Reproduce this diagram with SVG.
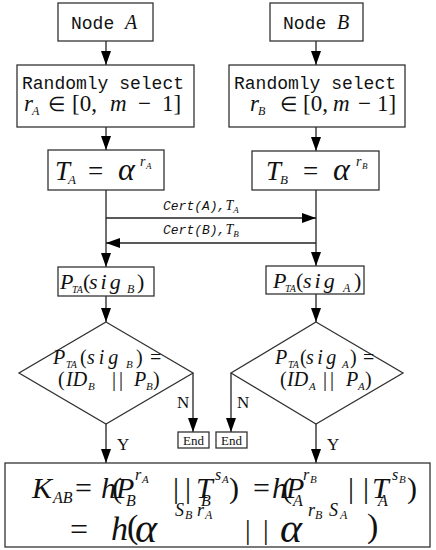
<svg xmlns="http://www.w3.org/2000/svg" width="436" height="550" viewBox="0 0 436 550">
<style>
.box{fill:#fff;stroke:#333;stroke-width:1.3}
.ln{fill:none;stroke:#222;stroke-width:1.3}
text{fill:#111}
.mono{font-family:"Liberation Mono","DejaVu Sans Mono",monospace}
.mi{font-family:"Liberation Serif","Times New Roman",serif;font-style:italic}
.r{font-family:"Liberation Serif","Times New Roman",serif;font-style:normal}
</style>
<defs>
<marker id="ah" viewBox="0 0 14 10" refX="14" refY="5" markerWidth="14" markerHeight="10" markerUnits="userSpaceOnUse" orient="auto">
<path d="M0,0 L14,5 L0,10 z" fill="#000"/>
</marker>
</defs>
<rect width="436" height="550" fill="#fff"/>

<g id="connectors">
<line class="ln" x1="106" y1="41" x2="106" y2="65" marker-end="url(#ah)"/>
<line class="ln" x1="316" y1="41" x2="316" y2="65" marker-end="url(#ah)"/>
<line class="ln" x1="106" y1="127" x2="106" y2="150" marker-end="url(#ah)"/>
<line class="ln" x1="316" y1="127" x2="316" y2="151" marker-end="url(#ah)"/>
<line class="ln" x1="106" y1="190" x2="106" y2="267" marker-end="url(#ah)"/>
<line class="ln" x1="316" y1="190" x2="316" y2="266" marker-end="url(#ah)"/>
<line class="ln" x1="106" y1="218" x2="316" y2="218" marker-end="url(#ah)"/>
<line class="ln" x1="316" y1="243" x2="106" y2="243" marker-end="url(#ah)"/>
<line class="ln" x1="106" y1="296" x2="106" y2="322" marker-end="url(#ah)"/>
<line class="ln" x1="316" y1="294" x2="316" y2="322" marker-end="url(#ah)"/>
<line class="ln" x1="193" y1="373" x2="193" y2="432" marker-end="url(#ah)"/>
<line class="ln" x1="231" y1="373" x2="231" y2="432" marker-end="url(#ah)"/>
<line class="ln" x1="106" y1="424" x2="106" y2="463" marker-end="url(#ah)"/>
<line class="ln" x1="316" y1="424" x2="316" y2="463" marker-end="url(#ah)"/>
<text class="mono" font-size="13" font-style="italic" x="163" y="210">Cert(A),<tspan class="mi" font-size="14">T</tspan><tspan class="mi" font-size="9" dy="3">A</tspan></text>
<text class="mono" font-size="13" font-style="italic" x="163" y="234">Cert(B),<tspan class="mi" font-size="14">T</tspan><tspan class="mi" font-size="9" dy="3">B</tspan></text>
<text class="r" font-size="17" x="177" y="408">N</text>
<text class="r" font-size="17" x="237" y="408">N</text>
<text class="r" font-size="17" x="117" y="450">Y</text>
<text class="r" font-size="17" x="327" y="450">Y</text>
</g>

<g id="nodeA">
<rect class="box" x="58" y="3" width="95" height="38"/>
<text class="mono" font-size="18" x="71" y="29">Node <tspan class="mi" font-size="20">A</tspan></text>
</g>
<g id="nodeB">
<rect class="box" x="270" y="3" width="93" height="38"/>
<text class="mono" font-size="18" x="283" y="29">Node <tspan class="mi" font-size="20">B</tspan></text>
</g>

<g id="selectA">
<rect class="box" x="17" y="65" width="177" height="62"/>
<text class="mono" font-size="18" x="22" y="89">Randomly select</text>
<text class="r" font-size="23"><tspan class="mi" x="24" y="111">r</tspan><tspan class="mi" font-size="12" x="32" y="115">A</tspan><tspan font-size="20" x="48" y="111">∈</tspan><tspan x="72" y="111">[0,</tspan><tspan class="mi" x="110" y="111">m</tspan><tspan x="138" y="111">−</tspan><tspan x="162" y="111">1]</tspan></text>
</g>
<g id="selectB">
<rect class="box" x="229" y="65" width="176" height="62"/>
<text class="mono" font-size="18" x="234" y="89">Randomly select</text>
<text class="r" font-size="23"><tspan class="mi" x="250" y="111">r</tspan><tspan class="mi" font-size="12" x="258" y="115">B</tspan><tspan font-size="20" x="280" y="111">∈</tspan><tspan x="303" y="111">[0,</tspan><tspan class="mi" x="333" y="111">m</tspan><tspan x="358" y="111">−</tspan><tspan x="377" y="111">1]</tspan></text>
</g>

<g id="TA">
<rect class="box" x="48" y="150" width="116" height="40"/>
<text class="mi" font-size="27"><tspan x="55" y="180">T</tspan><tspan font-size="13" x="68" y="184">A</tspan><tspan class="r" x="88" y="180">=</tspan><tspan font-size="32" x="118" y="180">α</tspan><tspan font-size="14" x="140" y="166">r</tspan><tspan font-size="9" x="146" y="169">A</tspan></text>
</g>
<g id="TB">
<rect class="box" x="252" y="151" width="127" height="39"/>
<text class="mi" font-size="27"><tspan x="266" y="180">T</tspan><tspan font-size="13" x="280" y="184">B</tspan><tspan class="r" x="303" y="180">=</tspan><tspan font-size="32" x="333" y="180">α</tspan><tspan font-size="14" x="356" y="166">r</tspan><tspan font-size="9" x="362" y="169">B</tspan></text>
</g>

<g id="sigB">
<rect class="box" x="58" y="267" width="96" height="29"/>
<text class="mi" font-size="22"><tspan x="60" y="289">P</tspan><tspan font-size="10" x="72" y="293">TA</tspan><tspan class="r" x="83" y="289">(</tspan><tspan x="89" y="289" letter-spacing="3">sig</tspan><tspan font-size="12" x="127" y="293">B</tspan><tspan class="r" x="137" y="289">)</tspan></text>
</g>
<g id="sigA">
<rect class="box" x="266" y="266" width="98" height="28"/>
<text class="mi" font-size="22"><tspan x="273" y="288">P</tspan><tspan font-size="10" x="285" y="292">TA</tspan><tspan class="r" x="296" y="288">(</tspan><tspan x="303" y="288" letter-spacing="3">sig</tspan><tspan font-size="12" x="343" y="292">A</tspan><tspan class="r" x="354" y="288">)</tspan></text>
</g>

<g id="decisionA">
<polygon class="box" points="106,322 193,373 106,424 19,373"/>
<text class="mi" font-size="20"><tspan x="53" y="364">P</tspan><tspan font-size="10" x="66" y="368">TA</tspan><tspan class="r" x="80" y="364">(</tspan><tspan x="87" y="364" letter-spacing="4">sig</tspan><tspan font-size="11" x="126" y="368">B</tspan><tspan class="r" x="136" y="364">)</tspan><tspan class="r" x="150" y="364">=</tspan></text>
<text class="mi" font-size="20"><tspan class="r" x="58" y="386">(</tspan><tspan x="66" y="386">ID</tspan><tspan font-size="11" x="88" y="390">B</tspan><tspan class="r" x="112" y="386">|</tspan><tspan class="r" x="119" y="386">|</tspan><tspan x="134" y="386">P</tspan><tspan font-size="11" x="146" y="390">B</tspan><tspan class="r" x="153" y="386">)</tspan></text>
</g>
<g id="decisionB">
<polygon class="box" points="316,322 403,373 316,424 231,373"/>
<text class="mi" font-size="20"><tspan x="275" y="364">P</tspan><tspan font-size="10" x="288" y="368">TA</tspan><tspan class="r" x="300" y="364">(</tspan><tspan x="306" y="364" letter-spacing="3.5">sig</tspan><tspan font-size="11" x="342" y="368">A</tspan><tspan class="r" x="350" y="364">)</tspan><tspan class="r" x="363" y="364">=</tspan></text>
<text class="mi" font-size="20"><tspan class="r" x="280" y="386">(</tspan><tspan x="287" y="386">ID</tspan><tspan font-size="11" x="309" y="390">A</tspan><tspan class="r" x="323" y="386">|</tspan><tspan class="r" x="330" y="386">|</tspan><tspan x="346" y="386">P</tspan><tspan font-size="11" x="358" y="390">A</tspan><tspan class="r" x="365" y="386">)</tspan></text>
</g>

<g id="endA">
<rect class="box" x="178" y="432" width="31" height="16"/>
<text class="r" font-size="13" x="193.5" y="445" text-anchor="middle">End</text>
</g>
<g id="endB">
<rect class="box" x="216" y="432" width="31" height="16"/>
<text class="r" font-size="13" x="231.5" y="445" text-anchor="middle">End</text>
</g>

<g id="key">
<rect class="box" x="5" y="463" width="425" height="84"/>
<text class="mi" font-size="30"><tspan x="32" y="498">K</tspan><tspan font-size="16" x="53" y="503">AB</tspan><tspan class="r" x="75" y="498">=</tspan><tspan x="101" y="498">h</tspan><tspan class="r" x="112" y="498">(</tspan><tspan x="116" y="498">P</tspan><tspan font-size="16" x="126" y="506">B</tspan><tspan font-size="16" x="135" y="480">r</tspan><tspan font-size="11" x="142" y="483">A</tspan><tspan class="r" x="173" y="498">|</tspan><tspan class="r" x="185" y="498">|</tspan><tspan x="196" y="498">T</tspan><tspan font-size="16" x="201" y="506">B</tspan><tspan font-size="16" x="215" y="480">s</tspan><tspan font-size="11" x="222" y="483">A</tspan><tspan class="r" x="229" y="498">)</tspan><tspan class="r" x="253" y="498">=</tspan><tspan x="272" y="498">h</tspan><tspan class="r" x="282" y="498">(</tspan><tspan x="286" y="498">P</tspan><tspan font-size="16" x="293" y="506">A</tspan><tspan font-size="16" x="303" y="480">r</tspan><tspan font-size="11" x="310" y="483">B</tspan><tspan class="r" x="348" y="498">|</tspan><tspan class="r" x="363" y="498">|</tspan><tspan x="372" y="498">T</tspan><tspan font-size="16" x="378" y="506">A</tspan><tspan font-size="16" x="392" y="480">s</tspan><tspan font-size="11" x="399" y="483">B</tspan><tspan class="r" x="407" y="498">)</tspan></text>
<text class="mi" font-size="34"><tspan class="r" font-size="32" x="70" y="540">=</tspan><tspan x="111" y="540">h</tspan><tspan class="r" x="127" y="538">(</tspan><tspan font-size="42" x="135" y="542">α</tspan><tspan font-size="18" x="175" y="516">S</tspan><tspan font-size="12" x="185" y="519">B</tspan><tspan font-size="18" x="197" y="516">r</tspan><tspan font-size="12" x="205" y="519">A</tspan><tspan class="r" font-size="28" x="245" y="539">|</tspan><tspan class="r" font-size="28" x="263" y="539">|</tspan><tspan font-size="42" x="280" y="542">α</tspan><tspan font-size="18" x="308" y="516">r</tspan><tspan font-size="12" x="315" y="519">B</tspan><tspan font-size="18" x="329" y="516">S</tspan><tspan font-size="12" x="340" y="519">A</tspan><tspan class="r" x="367" y="537">)</tspan></text>
</g>
</svg>
